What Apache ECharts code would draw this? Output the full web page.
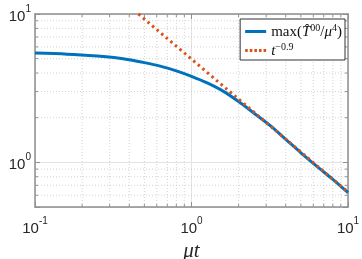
<!DOCTYPE html>
<html>
<head>
<meta charset="utf-8">
<script src="https://cdn.jsdelivr.net/npm/echarts@6/dist/echarts.min.js"></script>
<style>html,body{margin:0;padding:0;background:#fff}#c{width:362px;height:259px}</style>
</head>
<body>
<div id="c"></div>
<script>
// Data
const tValues = [0.1, 0.16, 0.25, 0.32, 0.4, 0.5, 0.63, 0.8, 1.0, 1.26, 1.6, 2.0, 2.5, 3.2, 4.0, 5.0, 6.3, 8.0, 10];
const maxT00 = [5.45, 5.36, 5.21, 5.09, 4.92, 4.70, 4.45, 4.14, 3.80, 3.43, 3.01, 2.57, 2.15, 1.76, 1.43, 1.16, 0.944, 0.767, 0.624];
const powerT = [0.458, 10];
const powerY = [10.0, 0.63];
const xMinor = [0.2, 0.3, 0.4, 0.5, 0.6, 0.7, 0.8, 0.9, 2, 3, 4, 5, 6, 7, 8, 9];
const yMinor = [0.6, 0.7, 0.8, 0.9, 2, 3, 4, 5, 6, 7, 8, 9];
const xRange = [0.1, 10];
const yRange = [0.5, 10];

const chart = echarts.init(document.getElementById('c'));
const axisColor = '#8f8f8f';
const serif = 'Liberation Serif';
const sans = 'Liberation Sans';

function powLabel(v) {
  const e = Math.log10(v);
  if (Math.abs(e - Math.round(e)) > 1e-6) return '';
  return '{b|10}{s|' + Math.round(e) + '}';
}
const labelRich = {
  b: {fontSize: 15, fontFamily: sans, color: '#262626', lineHeight: 20, verticalAlign: 'bottom'},
  s: {fontSize: 10, fontFamily: sans, color: '#262626', lineHeight: 20, verticalAlign: 'top'}
};

function minorX(params, api) {
  const x = api.coord([api.value(0), 1])[0];
  const cs = params.coordSys;
  const t = cs.y, b = cs.y + cs.height;
  return {type: 'group', children: [
    {type: 'line', shape: {x1: x, y1: t, x2: x, y2: b}, style: {stroke: '#c8c8c8', lineWidth: 0.8, lineDash: [1, 2]}},
    {type: 'line', shape: {x1: x, y1: b, x2: x, y2: b - 3}, style: {stroke: axisColor, lineWidth: 1}},
    {type: 'line', shape: {x1: x, y1: t, x2: x, y2: t + 3}, style: {stroke: axisColor, lineWidth: 1}}
  ]};
}
function minorY(params, api) {
  const y = api.coord([1, api.value(1)])[1];
  const cs = params.coordSys;
  const l = cs.x, r = cs.x + cs.width;
  return {type: 'group', children: [
    {type: 'line', shape: {x1: l, y1: y, x2: r, y2: y}, style: {stroke: '#c8c8c8', lineWidth: 0.8, lineDash: [1, 2]}},
    {type: 'line', shape: {x1: l, y1: y, x2: l + 3, y2: y}, style: {stroke: axisColor, lineWidth: 1}},
    {type: 'line', shape: {x1: r, y1: y, x2: r - 3, y2: y}, style: {stroke: axisColor, lineWidth: 1}}
  ]};
}

const legendText = {
  'max': '{r|max(}{i|T\u0302}{s|00}{r|/}{i|\u03bc}{s|4}{r|)}',
  't': '{i|t}{s|\u22120.9}'
};
const solidIcon = 'path://M0,0h21v3h-21z';
const dotIcon = 'path://M0,0h2.6v3h-2.6zM4.6,0h2.6v3h-2.6zM9.2,0h2.6v3h-2.6zM13.8,0h2.6v3h-2.6zM18.4,0h2.6v3h-2.6z';

chart.setOption({
  animation: false,
  grid: {left: 35, right: 14, top: 14, bottom: 52, outerBoundsMode: 'none', containLabel: false},
  xAxis: [
    {type: 'log', min: xRange[0], max: xRange[1], logBase: 10,
     name: '\u03bct', nameLocation: 'middle', nameGap: 27,
     nameTextStyle: {fontFamily: serif, fontStyle: 'italic', fontSize: 21, color: '#262626'},
     axisLine: {lineStyle: {color: axisColor, width: 1.5}},
     axisTick: {inside: true, length: 5, lineStyle: {color: axisColor}},
     axisLabel: {formatter: powLabel, rich: labelRich, margin: 9},
     splitLine: {show: true, lineStyle: {color: '#e3e3e3', width: 1}}},
    {type: 'log', min: xRange[0], max: xRange[1], logBase: 10, position: 'top',
     axisLine: {lineStyle: {color: axisColor, width: 1.5}},
     axisTick: {inside: true, length: 5, lineStyle: {color: axisColor}},
     axisLabel: {show: false}, splitLine: {show: false}}
  ],
  yAxis: [
    {type: 'log', min: yRange[0], max: yRange[1], logBase: 10,
     axisLine: {show: true, lineStyle: {color: axisColor, width: 1.5}},
     axisTick: {show: true, inside: true, length: 5, lineStyle: {color: axisColor}},
     axisLabel: {formatter: powLabel, rich: labelRich, margin: 4},
     splitLine: {show: true, lineStyle: {color: '#e3e3e3', width: 1}}},
    {type: 'log', min: yRange[0], max: yRange[1], logBase: 10, position: 'right',
     axisLine: {show: true, lineStyle: {color: axisColor, width: 1.5}},
     axisTick: {show: true, inside: true, length: 5, lineStyle: {color: axisColor}},
     axisLabel: {show: false}, splitLine: {show: false}}
  ],
  legend: {
    data: [{name: 'max', icon: solidIcon, itemStyle: {color: '#0072BD'}},
           {name: 't', icon: dotIcon, itemStyle: {color: '#D95319'}}],
    orient: 'vertical', right: 17, top: 19,
    backgroundColor: '#fff', borderColor: '#333', borderWidth: 1, borderRadius: 0,
    padding: [4, 3, 1, 5], itemGap: 2, itemWidth: 21, itemHeight: 3,
    formatter: n => legendText[n],
    textStyle: {
      rich: {
        r: {fontFamily: serif, fontSize: 15, color: '#111', lineHeight: 17, verticalAlign: 'bottom'},
        i: {fontFamily: serif, fontStyle: 'italic', fontSize: 15, color: '#111', lineHeight: 17, verticalAlign: 'bottom'},
        s: {fontFamily: serif, fontSize: 10, color: '#111', lineHeight: 10, padding: [0, 0, 7, 0], verticalAlign: 'bottom'}
      }
    }
  },
  series: [
    {type: 'custom', renderItem: minorX, data: xMinor.map(v => [v, 1]), silent: true, z: 1, clip: true},
    {type: 'custom', renderItem: minorY, data: yMinor.map(v => [1, v]), silent: true, z: 1, clip: true},
    {name: 'max', type: 'line', data: tValues.map((t, i) => [t, maxT00[i]]), smooth: 0.3,
     showSymbol: false, symbol: 'none', lineStyle: {color: '#0072BD', width: 3}, itemStyle: {color: '#0072BD'}, z: 3},
    {name: 't', type: 'line', data: powerT.map((t, i) => [t, powerY[i]]),
     showSymbol: false, symbol: 'none', lineStyle: {color: '#D95319', width: 3, type: [2.5, 3.5]}, itemStyle: {color: '#D95319'}, z: 4}
  ]
});
</script>
</body>
</html>
